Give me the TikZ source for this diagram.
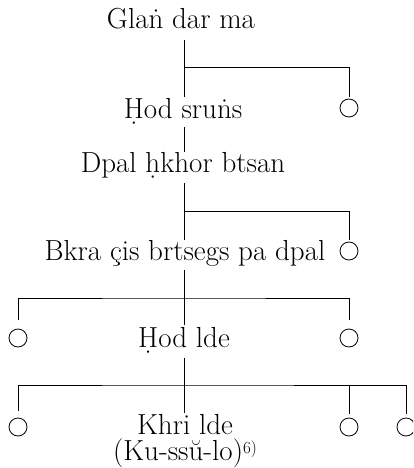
\documentclass[tikz,border=0pt]{standalone}
\usepackage{tikz}
\usetikzlibrary{positioning}
\tikzset{
    % Namen der Herrscher
    ruler/.style={
        anchor=base,
        inner sep=0pt,
        font=\fontsize{29}{32}\selectfont
    },
    % leere Kreise
    kid/.style={
        circle,
        draw,
        line width=0.8pt,
        minimum size=18pt,
        inner sep=0pt
    },
    stem/.style={
        line width=0.8pt,
        black
    }
}
\newcommand{\notemark}[1]{{\fontsize{17}{17}\selectfont\raisebox{7pt}{#1}}}
\begin{document}
\begin{tikzpicture}[x=1pt,y=-1pt]
	\clip (0,0) rectangle (413,468);
	
	% Namen
	\node[ruler] (glan) at (181,29) {Glaṅ dar ma};
	\node[ruler] (hodsruns) at (183,118) {Ḥod sruṅs};
	\node[ruler] (dpal) at (183,172) {Dpal ḥkhor btsan};
	\node[ruler] (bkra) at (185,260) {Bkra çis brtsegs pa dpal};
	\node[ruler] (hodlde) at (184,347) {Ḥod lde};
	% letzte Zeile liegt auf der Grundlinie
	\node[ruler,align=center,font=\fontsize{29}{26}\selectfont] (khri) at (185,460)
		{Khri lde\\(Ku-ssŭ-lo)\notemark{6)}};
	
	% Kreise
	\node[kid] (c1) at (349,108) {};
	\node[kid] (c2) at (349,251) {};
	\node[kid] (c3) at (18,338) {};
	\node[kid] (c4) at (349,338) {};
	\node[kid] (c5) at (18,427) {};
	\node[kid] (c6) at (349,427) {};
	\node[kid] (c7) at (406,427) {};
	
	\path
	(184,40) coordinate (t1)
	(184,97) coordinate (t2)
	(184,127) coordinate (t3)
	(184,152) coordinate (t4)
	(184,183) coordinate (t5)
	(184,240) coordinate (t6)
	(184,270) coordinate (t7)
	(184,325) coordinate (t8)
	(184,358) coordinate (t9)
	(184,413) coordinate (t10)
	
	(184,67) coordinate (j1)
	(184,211) coordinate (j2)
	(184,298) coordinate (j3)
	(184,385) coordinate (j4);
	
	% senkrechte Linien
	\draw[stem] (t1) -- (t2);
	\draw[stem] (t3) -- (t4);
	\draw[stem] (t5) -- (t6);
	\draw[stem] (t7) -- (t8);
	\draw[stem] (t9) -- (t10);
	
	% Geschwister
	\draw[stem,shorten >=2pt] (j1) -| (c1);
	\draw[stem,shorten >=2pt] (j2) -| (c2);
	\draw[stem,shorten <=9pt,shorten >=9pt] (c3) |- (j3) -| (c4);
	\draw[stem,shorten <=7pt,shorten >=4pt] (c5) |- (j4) -| (c7);
	\draw[stem,shorten >=4pt] (j4 -| c6) -- (c6);
\end{tikzpicture}
\end{document}
